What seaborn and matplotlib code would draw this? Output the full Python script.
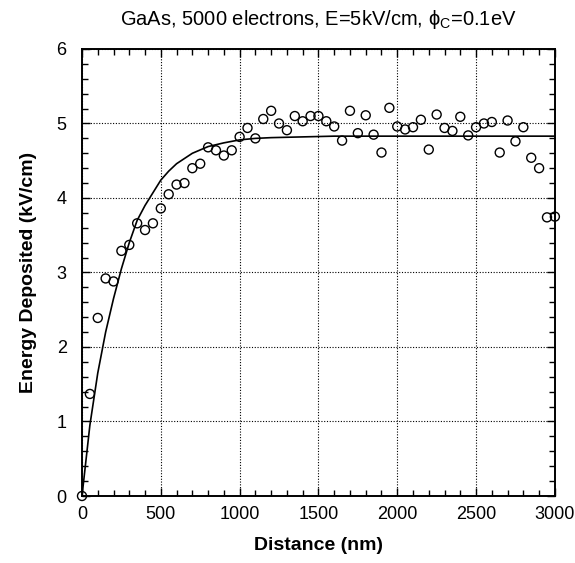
import matplotlib
matplotlib.use("Agg")
import matplotlib.pyplot as plt
import seaborn as sns
import pandas as pd
from matplotlib.ticker import MultipleLocator

# Simulated energy deposited along the sample (open circles)
distance_nm = [0, 50, 100, 150, 200, 250, 300, 350, 400, 450,
               500, 550, 600, 650, 700, 750, 800, 850, 900, 950,
               1000, 1050, 1100, 1150, 1200, 1250, 1300, 1350, 1400, 1450,
               1500, 1550, 1600, 1650, 1700, 1750, 1800, 1850, 1900, 1950,
               2000, 2050, 2100, 2150, 2200, 2250, 2300, 2350, 2400, 2450,
               2500, 2550, 2600, 2650, 2700, 2750, 2800, 2850, 2900, 2950,
               3000]
energy_kv_cm = [0.00, 1.37, 2.39, 2.92, 2.88, 3.29, 3.37, 3.66, 3.57, 3.66,
                3.86, 4.05, 4.18, 4.20, 4.40, 4.46, 4.68, 4.64, 4.57, 4.64,
                4.82, 4.94, 4.80, 5.06, 5.17, 5.00, 4.91, 5.10, 5.03, 5.10,
                5.10, 5.03, 4.96, 4.77, 5.17, 4.87, 5.11, 4.85, 4.61, 5.21,
                4.96, 4.92, 4.95, 5.05, 4.65, 5.12, 4.94, 4.90, 5.09, 4.84,
                4.95, 5.00, 5.02, 4.61, 5.04, 4.76, 4.95, 4.54, 4.40, 3.74,
                3.75]

# Model curve (solid line)
model_distance_nm = [0, 50, 100, 150, 200, 250, 300, 350, 400, 450, 500,
                     550, 600, 700, 800, 900, 1000, 1100, 1200, 1400,
                     1600, 2000, 2500, 3000]
model_energy_kv_cm = [0.00, 0.95, 1.65, 2.20, 2.65, 3.05, 3.40, 3.70, 3.90,
                      4.07, 4.24, 4.36, 4.46, 4.60, 4.69, 4.74, 4.78, 4.80,
                      4.81, 4.82, 4.83, 4.83, 4.83, 4.83]

x_ticks = [0, 500, 1000, 1500, 2000, 2500, 3000]
y_ticks = [0, 1, 2, 3, 4, 5, 6]

points = pd.DataFrame({"distance": distance_nm, "energy": energy_kv_cm})
model = pd.DataFrame({"distance": model_distance_nm, "energy": model_energy_kv_cm})

sns.set_theme(style="ticks")
plt.rcParams["font.family"] = ["Liberation Sans", "DejaVu Sans"]
plt.rcParams["mathtext.fontset"] = "custom"
plt.rcParams["mathtext.rm"] = "Liberation Sans"
plt.rcParams["text.color"] = "black"
plt.rcParams["axes.labelcolor"] = "black"

fig = plt.figure(figsize=(5.75, 5.63), dpi=100)
ax = fig.add_axes([0.1426, 0.119, 0.8224, 0.794])

sns.lineplot(data=model, x="distance", y="energy", color="black",
             linewidth=1.2, ax=ax, zorder=3)
sns.scatterplot(data=points, x="distance", y="energy", marker="o",
                s=42, facecolor="none", edgecolor="black", linewidth=1.0,
                ax=ax, zorder=4, clip_on=False)

ax.set_xlim(0, 3000)
ax.set_ylim(0, 6)
ax.set_xticks(x_ticks)
ax.set_yticks(y_ticks)
ax.xaxis.set_minor_locator(MultipleLocator(100))
ax.yaxis.set_minor_locator(MultipleLocator(0.2))
ax.tick_params(which="both", direction="in", top=True, right=True,
               colors="black", width=1.0, labelsize=13)
ax.tick_params(axis="x", which="major", pad=7)
ax.tick_params(axis="y", which="major", pad=11)
ax.tick_params(which="major", length=6)
ax.tick_params(which="minor", length=4)

ax.grid(True, which="major", color="black", linestyle=(0, (1, 1.5)),
        linewidth=0.8)
for side in ax.spines.values():
    side.set_linewidth(1.4)
    side.set_color("black")

ax.set_xlabel("Distance (nm)", fontsize=14, fontweight="bold", labelpad=10)
ax.set_ylabel("Energy Deposited (kV/cm)", fontsize=14, fontweight="bold",
              labelpad=14)
ax.set_title("GaAs, 5000 electrons, E=5kV/cm, \u03d5$_\\mathregular{C}$=0.1eV",
             fontsize=14.5, pad=17)

fig.savefig("out.png", dpi=100)
